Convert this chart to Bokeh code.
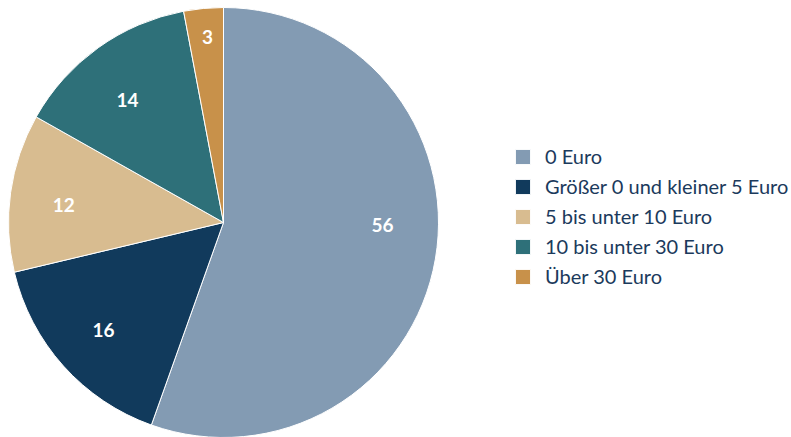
from bokeh.plotting import figure
from bokeh.models import Range1d, Legend, LegendItem, ColumnDataSource
from bokeh.embed import file_html
from bokeh.resources import INLINE
from bokeh.core.properties import value
import math

categories = ["0 Euro", "Größer 0 und kleiner 5 Euro", "5 bis unter 10 Euro",
              "10 bis unter 30 Euro", "Über 30 Euro"]
values = [56, 16, 12, 14, 3]
colors = ["#839bb3", "#113a5c", "#d8bc90", "#2e7079", "#c8914a"]

# label pixel offsets (layout only)
label_dx = [0, 0, 0, -2, -1]
label_dy = [25, 0, -5, -9, 25]

W, H = 791, 437
cx, cy, R = 223, 437 - 222, 215
FONT = "Lato"

total = sum(values)
starts, ends, lx, ly = [], [], [], []
cum = 0
for i, v in enumerate(values):
    a0 = math.pi / 2 - cum / total * 2 * math.pi
    a1 = math.pi / 2 - (cum + v) / total * 2 * math.pi
    mid = (a0 + a1) / 2
    starts.append(a0)
    ends.append(a1)
    lx.append(cx + 0.75 * R * math.cos(mid) + label_dx[i])
    ly.append(cy + 0.75 * R * math.sin(mid) + label_dy[i])
    cum += v

src = ColumnDataSource(dict(cat=categories, val=values, col=colors, s=starts, e=ends,
                            lx=lx, ly=ly, txt=[str(v) for v in values]))

p = figure(width=W, height=H, output_backend="svg", toolbar_location=None,
           x_range=Range1d(0, W), y_range=Range1d(0, H), min_border=0)
p.axis.visible = False
p.grid.visible = False
p.outline_line_color = None

r = p.wedge(x=cx, y=cy, radius=R, start_angle="s", end_angle="e", direction="clock",
            fill_color="col", line_color="white", line_width=1, source=src)

p.text(x="lx", y="ly", text="txt", source=src, text_color="white",
       text_font=value(FONT), text_font_size="19px", text_font_style="bold",
       text_align="center", text_baseline="middle")

items = [LegendItem(label=c, renderers=[r], index=i) for i, c in enumerate(categories)]
legend = Legend(items=items, location=(513, 149), padding=0, margin=0,
                border_line_alpha=0, background_fill_alpha=0,
                glyph_width=19, glyph_height=19, label_standoff=13, spacing=6,
                label_text_font=FONT, label_text_font_size="20px",
                label_text_color="#1b3a5c", label_height=20)
p.add_layout(legend, "center")

open("out.html", "w").write(file_html(p, INLINE))
